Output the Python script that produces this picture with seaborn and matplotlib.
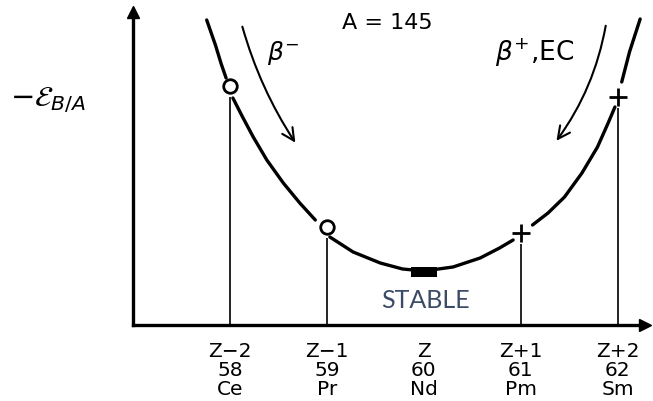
import matplotlib
matplotlib.use("Agg")
import matplotlib.pyplot as plt
import pandas as pd
import seaborn as sns

# nuclides on the A = 145 isobar
z_values = [58, 59, 60, 61, 62]
z_labels = ["Z\u22122\n58\nCe", "Z\u22121\n59\nPr", "Z\n60\nNd", "Z+1\n61\nPm", "Z+2\n62\nSm"]
energy = [2.39, 0.98, 0.53, 0.92, 2.28]   # -E_B/A, arbitrary units
kind = ["beta-", "beta-", "stable", "beta+", "beta+"]

# the hand drawn mass parabola, broken where it meets a marker
curve_z = [57.76, 57.85, 57.91, 57.96,
           58.03, 58.13, 58.24, 58.38, 58.55, 58.72, 58.88,
           59.03, 59.27, 59.55, 59.78, 60.00, 60.30, 60.58, 60.78, 60.92,
           61.12, 61.28, 61.45, 61.63, 61.79, 61.90, 61.97,
           62.04, 62.12, 62.23]
curve_e = [3.05, 2.80, 2.61, 2.47,
           2.27, 2.08, 1.88, 1.65, 1.42, 1.22, 1.05,
           0.88, 0.73, 0.62, 0.56, 0.54, 0.58, 0.67, 0.77, 0.85,
           1.00, 1.12, 1.28, 1.52, 1.78, 2.02, 2.18,
           2.43, 2.73, 3.06]
curve_seg = [0] * 4 + [1] * 7 + [2] * 9 + [3] * 7 + [4] * 3

pts = pd.DataFrame({"Z": z_values, "E": energy, "kind": kind})
curve = pd.DataFrame({"Z": curve_z, "E": curve_e, "seg": curve_seg})

sns.set_style("white")
plt.rcParams["font.family"] = ["DejaVu Sans"]
plt.rcParams["text.color"] = "black"
plt.rcParams["xtick.color"] = "black"

fig = plt.figure(figsize=(6.53, 4.01), dpi=100)
ax = fig.add_axes([133 / 653, 76 / 401, 512 / 653, 313 / 401])
ax.set_xlim(57.0, 62.28)
ax.set_ylim(0, 3.13)

for s, seg in curve.groupby("seg"):
    sns.lineplot(data=seg, x="Z", y="E", sort=False, color="black", lw=2.4,
                 ax=ax, clip_on=False, solid_joinstyle="round",
                 solid_capstyle="round")

# drop lines from each unstable nuclide to the axis
for z, e, k in zip(z_values, energy, kind):
    if k != "stable":
        ax.vlines(z, 0, e - 0.11, color="black", lw=1.2)

neg = pts[pts["kind"] == "beta-"]
sns.scatterplot(data=neg, x="Z", y="E", marker="o", s=95, facecolor="white",
                edgecolor="black", linewidth=2, ax=ax, zorder=5, clip_on=False)
pos = pts[pts["kind"] == "beta+"]
sns.scatterplot(data=pos, x="Z", y="E", marker="+", s=170, color="black",
                linewidth=2, ax=ax, zorder=5, clip_on=False)
stab = pts[pts["kind"] == "stable"]
rect = [(-1, -0.4), (1, -0.4), (1, 0.4), (-1, 0.4), (-1, -0.4)]
sns.scatterplot(data=stab, x="Z", y="E", marker=rect, s=330, color="black",
                linewidth=0, ax=ax, zorder=5)

# axes drawn as arrows
for side in ["top", "right"]:
    ax.spines[side].set_visible(False)
for side in ["left", "bottom"]:
    ax.spines[side].set_linewidth(2.4)
    ax.spines[side].set_color("black")
ax.plot(0, 1, "^k", ms=9, transform=ax.transAxes, clip_on=False)
ax.plot(1, 0, ">k", ms=8, transform=ax.transAxes, clip_on=False)

ax.set_xticks(z_values, z_labels)
ax.set_yticks([])
ax.tick_params(axis="x", length=0, pad=12, labelsize=14.5)
for t in ax.get_xticklabels():
    t.set_linespacing(1.0)
ax.set_xlabel("")
ax.set_ylabel("")

ax.text(59.62, 3.02, "A = 145", ha="center", va="center", fontsize=16)
ax.text(58.55, 2.72, r"$\beta^{-}$", ha="center", va="center", fontsize=18)
ax.text(61.14, 2.72, r"$\beta^{+}$,EC", ha="center", va="center", fontsize=19)
ax.text(60.02, 0.24, "STABLE", ha="center", va="center", fontsize=18,
        color="#3b4a66", family=["Lato", "DejaVu Sans"])

ax.annotate("", xy=(58.69, 1.80), xytext=(58.12, 3.01),
            arrowprops=dict(arrowstyle="->", lw=1.5, color="black",
                            mutation_scale=22, connectionstyle="arc3,rad=0.08"))
ax.annotate("", xy=(61.35, 1.82), xytext=(61.88, 3.02),
            arrowprops=dict(arrowstyle="->", lw=1.5, color="black",
                            mutation_scale=22, connectionstyle="arc3,rad=-0.12"))

fig.text(10 / 653, 1 - 100 / 401, r"$-\mathcal{E}_{B/A}$", ha="left", va="center",
         fontsize=21)

fig.savefig("out.png", dpi=100)
